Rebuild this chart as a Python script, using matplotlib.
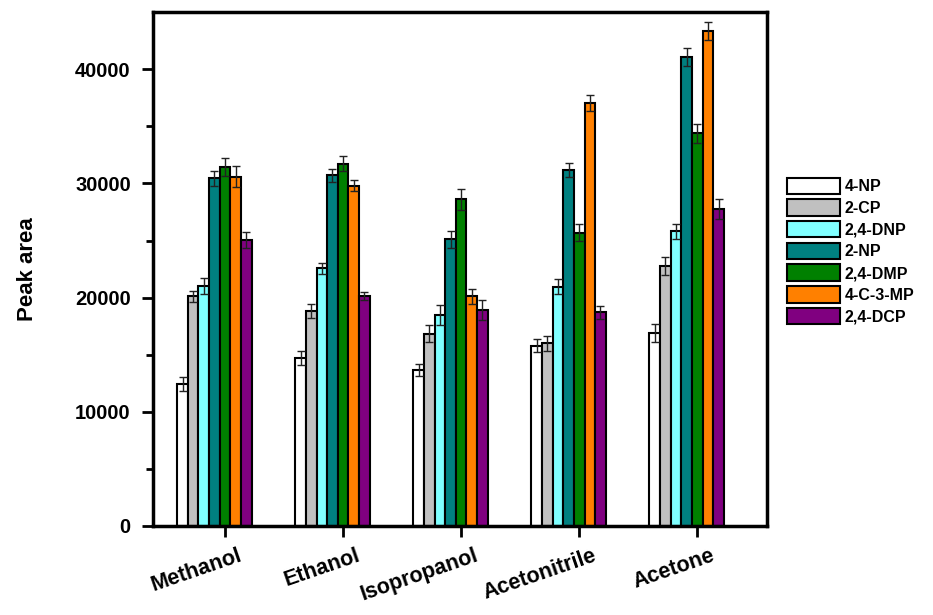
import matplotlib.pyplot as plt
import numpy as np

plt.rcParams['font.family'] = ['Liberation Sans', 'DejaVu Sans']
plt.rcParams['font.weight'] = 'bold'

solvents = ["Methanol", "Ethanol", "Isopropanol", "Acetonitrile", "Acetone"]
compounds = ["4-NP", "2-CP", "2,4-DNP", "2-NP", "2,4-DMP", "4-C-3-MP", "2,4-DCP"]
colors = ["#ffffff", "#c0c0c0", "#80ffff", "#008080", "#008000", "#ff8000", "#800080"]

# peak areas per compound, one value per solvent
np4 = [12450, 14700, 13650, 15800, 16900]
cp2 = [20100, 18850, 16850, 16000, 22800]
dnp24 = [21050, 22550, 18500, 20950, 25800]
np2 = [30450, 30700, 25100, 31200, 41050]
dmp24 = [31450, 31750, 28600, 25700, 34400]
c3mp4 = [30600, 29800, 20100, 37050, 43350]
dcp24 = [25050, 20150, 18900, 18700, 27800]

# standard deviations
np4_err = [600, 640, 520, 550, 760]
cp2_err = [520, 600, 730, 640, 790]
dnp24_err = [700, 500, 870, 670, 670]
np2_err = [640, 610, 730, 610, 790]
dmp24_err = [790, 670, 900, 760, 820]
c3mp4_err = [900, 500, 670, 730, 760]
dcp24_err = [730, 380, 870, 550, 870]

series = [np4, cp2, dnp24, np2, dmp24, c3mp4, dcp24]
errors = [np4_err, cp2_err, dnp24_err, np2_err, dmp24_err, c3mp4_err, dcp24_err]

fig = plt.figure(figsize=(9.33, 6.15), dpi=100)
ax = fig.add_axes([0.164, 0.145, 0.658, 0.835])

x = np.arange(len(solvents))
w = 0.09
for i in range(len(series)):
    ax.bar(x + (i - 4) * w, series[i], w, yerr=errors[i], color=colors[i],
           edgecolor="black", linewidth=1.5, label=compounds[i],
           error_kw=dict(ecolor="#222222", elinewidth=1, capsize=3, capthick=1))

ax.set_xlim(-0.61, 4.59)
ax.set_ylim(0, 45000)
ax.set_yticks([0, 10000, 20000, 30000, 40000])
ax.set_yticks(np.arange(5000, 45000, 10000), minor=True)

# tick marks at the group centres, labels a little to the right (minor ticks)
ax.set_xticks(x)
ax.set_xticklabels([])
ax.set_xticks(x + 0.11, minor=True)
ax.set_xticklabels(solvents, minor=True, rotation=19, ha="right", va="top",
                   rotation_mode="anchor", fontsize=15.5, fontweight="bold")
ax.tick_params(axis="x", which="major", width=2, length=8, direction="out")
ax.tick_params(axis="x", which="minor", length=0, pad=14)

ax.tick_params(axis="y", labelsize=14.5, width=2, length=8, direction="out", pad=8)
ax.tick_params(axis="y", which="minor", width=2, length=5)
for s in ax.spines.values():
    s.set_linewidth(2.5)
ax.set_ylabel("Peak area", fontsize=16, fontweight="bold", labelpad=27)

ax.legend(loc="center left", bbox_to_anchor=(1.01, 0.535), frameon=False,
          handlelength=3.3, handleheight=1.2, labelspacing=0.32,
          handletextpad=0.3, prop={"weight": "bold", "size": 11.5})

fig.savefig("out.png", dpi=100)
